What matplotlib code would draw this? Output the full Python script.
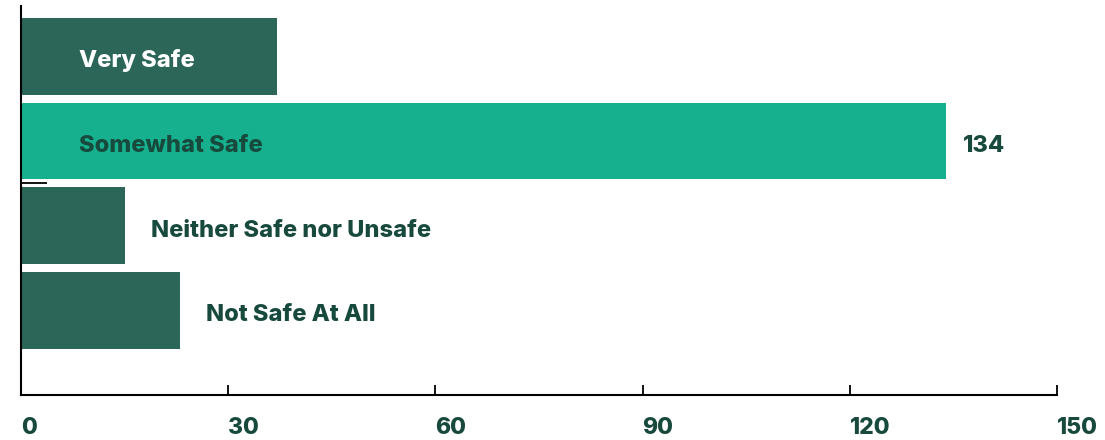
import matplotlib
matplotlib.use("Agg")
import matplotlib.pyplot as plt

categories = ["Very Safe", "Somewhat Safe", "Neither Safe nor Unsafe", "Not Safe At All"]
counts = [37, 134, 15, 23]
bar_colors = ["#2b6658", "#16b08e", "#2b6658", "#2b6658"]
label_colors = ["#ffffff", "#17493d", "#17493d", "#17493d"]
label_inside = [True, True, False, False]
x_ticks = [0, 30, 60, 90, 120, 150]
value_shown = [False, True, False, False]

TEXT_DARK = "#17493d"
plt.rcParams["font.family"] = ["Inter", "DejaVu Sans"]
WEIGHT = 800

fig = plt.figure(figsize=(11.05, 4.4), dpi=100)
ax = fig.add_axes([0.0193, 0.1023, 0.937, 0.8841])

ypos = list(range(len(categories)))
ax.barh(ypos, counts, height=0.905, color=bar_colors, zorder=2)

ax.set_xlim(0, 150)
ax.set_ylim(4.0, -0.594)

text_kw = dict(fontsize=17, fontweight=WEIGHT, ha="left", va="baseline",
               textcoords="offset points", zorder=3)
for y, name, val, col, inside, show in zip(ypos, categories, counts, label_colors,
                                           label_inside, value_shown):
    if inside:
        ax.annotate(name, xy=(8.36, y), xytext=(0, -8), color=col, **text_kw)
    else:
        ax.annotate(name, xy=(val, y), xytext=(19, -8), color=col, **text_kw)
    if show:
        ax.annotate(f"{val}", xy=(val, y), xytext=(12, -8), color=TEXT_DARK, **text_kw)

for side in ("top", "right"):
    ax.spines[side].set_visible(False)
for side in ("left", "bottom"):
    ax.spines[side].set_linewidth(1.5)
    ax.spines[side].set_color("black")

ax.set_xticks(x_ticks)
ax.set_xticklabels([str(t) for t in x_ticks])
ax.tick_params(axis="x", direction="in", length=7.2, width=1.3, color="black",
               pad=15.5, labelsize=16.5, labelcolor=TEXT_DARK)
for lab in ax.get_xticklabels():
    lab.set_horizontalalignment("left")
    lab.set_fontweight(WEIGHT)

ax.set_yticks([1.5])
ax.set_yticklabels([""])
ax.tick_params(axis="y", direction="in", length=18.7, width=1.3, color="black")

fig.savefig("out.png", dpi=100)
